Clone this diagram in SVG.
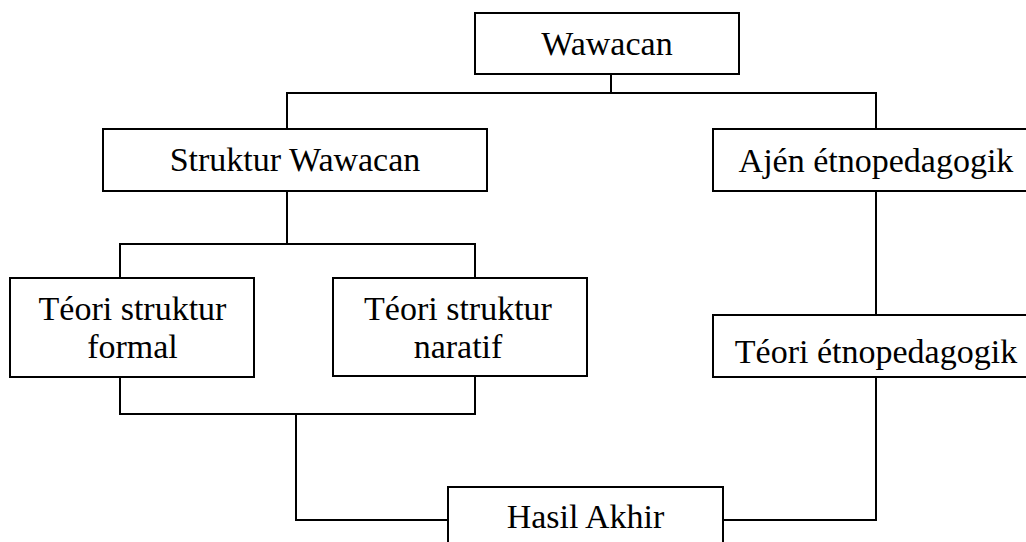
<svg xmlns="http://www.w3.org/2000/svg" width="1026" height="542" viewBox="0 0 1026 542">
<style>
.box{fill:#fff;stroke:#000;stroke-width:2}
.ln{fill:none;stroke:#000;stroke-width:2}
text{font-family:"Liberation Serif","DejaVu Serif",serif;font-size:34px;fill:#000;text-anchor:middle}
</style>
<rect width="1026" height="542" fill="#fff"/>
<g id="connectors">
<polyline class="ln" points="611,74 611,93"/>
<polyline class="ln" points="287,129 287,93 876,93 876,129"/>
<polyline class="ln" points="287,191 287,244"/>
<polyline class="ln" points="120,278 120,244 475,244 475,278"/>
<polyline class="ln" points="120,377 120,414 475,414 475,376"/>
<polyline class="ln" points="296,414 296,520 448,520"/>
<polyline class="ln" points="876,191 876,315"/>
<polyline class="ln" points="876,377 876,520 723,520"/>
</g>
<g id="wawacan"><rect class="box" x="475" y="13" width="264" height="61"/><text x="607" y="55">Wawacan</text></g>
<g id="struktur"><rect class="box" x="103" y="129" width="384" height="62"/><text x="295" y="171">Struktur Wawacan</text></g>
<g id="ajen"><rect class="box" x="713" y="129" width="326" height="62"/><text x="876" y="172">Ajén étnopedagogik</text></g>
<g id="formal"><rect class="box" x="10" y="278" width="244" height="99"/><text x="132.5" y="320">Téori struktur</text><text x="132.5" y="358">formal</text></g>
<g id="naratif"><rect class="box" x="333" y="278" width="254" height="98"/><text x="458" y="320">Téori struktur</text><text x="458" y="358">naratif</text></g>
<g id="teori-etno"><rect class="box" x="713" y="315" width="326" height="62"/><text x="876" y="363">Téori étnopedagogik</text></g>
<g id="hasil"><rect class="box" x="448" y="487" width="275" height="70"/><text x="585.5" y="528">Hasil Akhir</text></g>
</svg>
